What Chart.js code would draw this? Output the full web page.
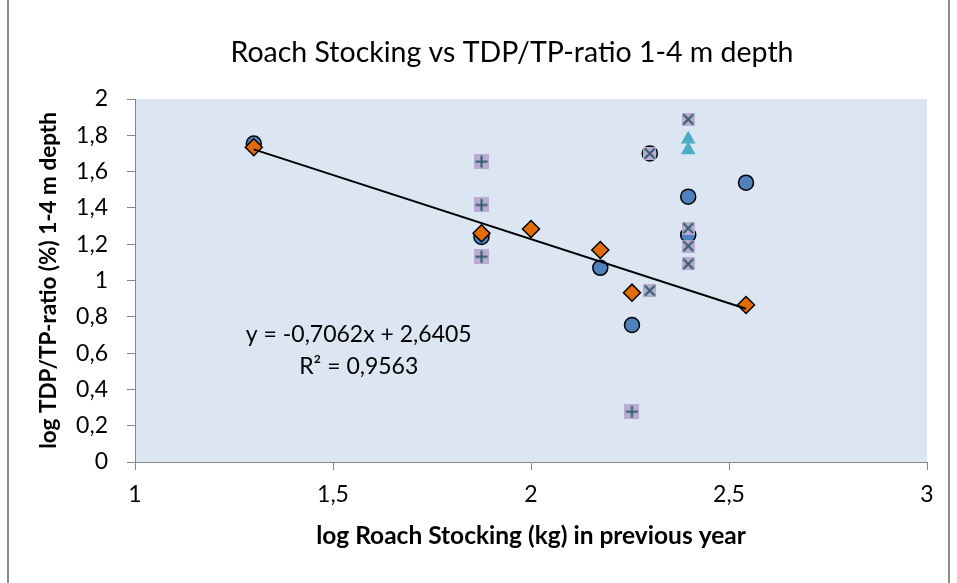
<!DOCTYPE html>
<html>
<head>
<meta charset="utf-8">
<script src="https://cdn.jsdelivr.net/npm/chart.js@4"></script>
<style>
  html, body { margin: 0; padding: 0; background: #fff; }
  canvas { display: block; }
</style>
</head>
<body>
<canvas id="chart" width="957" height="583"></canvas>
<script>
// values
const circleX = [1.30, 1.875, 2.175, 2.255, 2.397, 2.397, 2.543];
const circleY = [1.755, 1.24, 1.07, 0.755, 1.462, 1.251, 1.539];

// the one circle that shows no blue fill
const ringX = [2.30];
const ringY = [1.70];

const diamondX = [1.30, 1.875, 2.0, 2.175, 2.255, 2.543];
const diamondY = [1.734, 1.26, 1.284, 1.168, 0.933, 0.865];

const plusX = [1.875, 1.875, 1.875, 2.255];
const plusY = [1.655, 1.416, 1.131, 0.277];

const crossX = [2.397, 2.397, 2.397, 2.397, 2.30, 2.30];
const crossY = [1.888, 1.288, 1.19, 1.091, 0.944, 1.70];

const triangleX = [2.397, 2.397];
const triangleY = [1.778, 1.719];

// trendline as printed on the chart
const slope = -0.7062;
const intercept = 2.6405;
const equationLines = ['y = -0,7062x + 2,6405', 'R\u00b2 = 0,9563'];
const chartTitle = 'Roach Stocking vs TDP/TP-ratio 1-4 m depth';

const FONT = 'Lato, "Open Sans", sans-serif';

const toPoints = (xs, ys) => xs.map((x, i) => ({ x: x, y: ys[i] }));

// lavender square with a cross drawn on it (Excel style marker)
function squareMarker(size, rotated) {
    const c = document.createElement('canvas');
    c.width = size;
    c.height = size;
    const g = c.getContext('2d');
    const m = size / 2;
    g.fillStyle = '#b9abd2';
    g.fillRect(0, 0, size, size);
    g.strokeStyle = '#2f5e6c';
    g.lineWidth = 2;
    g.beginPath();
    if (rotated) {
        const d = 5;
        g.moveTo(m - d, m - d); g.lineTo(m + d, m + d);
        g.moveTo(m + d, m - d); g.lineTo(m - d, m + d);
    } else {
        const d = 6;
        g.moveTo(m, m - d); g.lineTo(m, m + d);
        g.moveTo(m - d, m); g.lineTo(m + d, m);
    }
    g.stroke();
    return c;
}

const trendXs = [Math.min(...diamondX), Math.max(...diamondX)];
const trendPoints = trendXs.map(x => ({ x: x, y: slope * x + intercept }));

const plotBackground = {
    id: 'plotBackground',
    beforeDraw(chart) {
        const { ctx, chartArea: a } = chart;
        ctx.save();
        ctx.fillStyle = '#ffffff';
        ctx.fillRect(0, 0, chart.width, chart.height);
        ctx.fillStyle = '#dce6f2';
        ctx.fillRect(a.left, a.top, a.right - a.left, a.bottom - a.top);
        // outer chart frame
        ctx.strokeStyle = '#8a8a8a';
        ctx.lineWidth = 2;
        ctx.beginPath();
        ctx.moveTo(8, 0); ctx.lineTo(8, chart.height);
        ctx.moveTo(949, 0); ctx.lineTo(949, chart.height);
        ctx.stroke();
        // chart title
        ctx.font = '28.5px ' + FONT;
        ctx.fillStyle = '#000';
        ctx.textAlign = 'center';
        ctx.textBaseline = 'alphabetic';
        ctx.fillText(chartTitle, 512, 62);
        ctx.restore();
    }
};

const equationLabel = {
    id: 'equationLabel',
    afterDatasetsDraw(chart) {
        const { ctx, scales } = chart;
        const cx = scales.x.getPixelForValue(1.565);
        ctx.save();
        ctx.font = '23px ' + FONT;
        ctx.fillStyle = '#000';
        ctx.textAlign = 'center';
        ctx.textBaseline = 'middle';
        ctx.fillText(equationLines[0], cx, scales.y.getPixelForValue(0.70));
        ctx.fillText(equationLines[1], cx, scales.y.getPixelForValue(0.525));
        ctx.restore();
    }
};

const commaFormat = v => String(Number(v.toFixed(1))).replace('.', ',');

new Chart(document.getElementById('chart'), {
    type: 'scatter',
    data: {
        datasets: [
            {
                type: 'line',
                label: 'Linear trend',
                data: trendPoints,
                borderColor: '#000',
                borderWidth: 2,
                pointRadius: 0,
                fill: false
            },
            {
                label: 'x',
                data: toPoints(crossX, crossY),
                pointStyle: squareMarker(13, true),
                pointRadius: 7
            },
            {
                label: 'plus',
                data: toPoints(plusX, plusY),
                pointStyle: squareMarker(15, false),
                pointRadius: 8
            },
            {
                label: 'triangle',
                data: toPoints(triangleX, triangleY),
                pointStyle: 'triangle',
                pointRadius: 8.5,
                backgroundColor: '#4bacc6',
                borderColor: '#4bacc6',
                borderWidth: 0
            },
            {
                label: 'diamond',
                data: toPoints(diamondX, diamondY),
                pointStyle: 'rectRot',
                pointRadius: 8.5,
                backgroundColor: '#e36c09',
                borderColor: '#000',
                borderWidth: 1.5
            },
            {
                label: 'ring',
                data: toPoints(ringX, ringY),
                pointStyle: 'circle',
                pointRadius: 7.5,
                backgroundColor: '#c4bbdb',
                borderColor: '#000',
                borderWidth: 1.5
            },
            {
                label: 'circle',
                data: toPoints(circleX, circleY),
                pointStyle: 'circle',
                pointRadius: 7.5,
                backgroundColor: '#4f81bd',
                borderColor: '#000',
                borderWidth: 1.5
            }
        ]
    },
    options: {
        responsive: false,
        animation: false,
        events: [],
        layout: { padding: { left: 30, right: 30, top: 99, bottom: 28 } },
        plugins: {
            legend: { display: false },
            tooltip: { enabled: false },
            title: { display: false }
        },
        scales: {
            x: {
                type: 'linear',
                min: 1,
                max: 3,
                ticks: { stepSize: 0.5, color: '#000', font: { family: FONT, size: 23 }, padding: 11, callback: commaFormat },
                grid: { drawOnChartArea: false, tickLength: 8, color: '#868686' },
                border: { color: '#868686', width: 1 },
                title: { display: true, text: 'log Roach Stocking (kg) in previous year', color: '#000', font: { family: FONT, size: 24.5, weight: 'bold' }, padding: { top: 4, bottom: 4 } },
                afterFit: s => { s.height = 93; }
            },
            y: {
                type: 'linear',
                min: 0,
                max: 2,
                ticks: { stepSize: 0.2, color: '#000', font: { family: FONT, size: 23 }, padding: 19, callback: commaFormat },
                grid: { drawOnChartArea: false, tickLength: 8, color: '#868686' },
                border: { color: '#868686', width: 1 },
                title: { display: true, text: 'log TDP/TP-ratio (%) 1-4 m depth', color: '#000', font: { family: FONT, size: 22.5, weight: 'bold' }, padding: { top: 5, bottom: 4 } },
                afterFit: s => { s.width = 105; }
            }
        }
    },
    plugins: [plotBackground, equationLabel]
});
</script>
</body>
</html>
